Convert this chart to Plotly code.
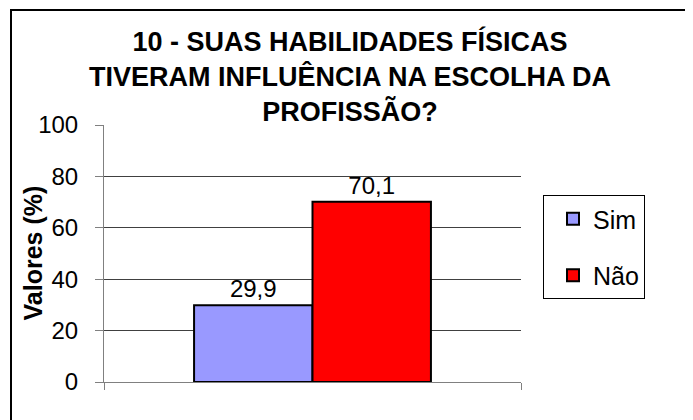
import plotly.graph_objects as go

categories = ["Sim", "Não"]
values = [29.9, 70.1]
colors = ["#9999FF", "#FF0000"]
y_ticks = [0, 20, 40, 60, 80, 100]
title_lines = ["10 - SUAS HABILIDADES FÍSICAS", "TIVERAM INFLUÊNCIA NA ESCOLHA DA", "PROFISSÃO?"]
y_title = "Valores (%)"

FONT = "Liberation Sans, Arial, sans-serif"

fig = go.Figure()
for name, val, col in zip(categories, values, colors):
    fig.add_trace(go.Bar(
        x=[""], y=[val], name=name, legendgroup=name,
        marker=dict(color=col, line=dict(color="black", width=2)),
        texttemplate="%{y:.1f}", textposition="outside",
        textfont=dict(size=24, color="black", family=FONT),
        cliponaxis=False,
    ))

# page has an 8px body margin; figure coordinates = screen - 8
W, H = 685, 412
L, R, T, B = 96, 172, 117, 38
pw, ph = W - L - R, H - T - B

fig.update_layout(
    width=W, height=H,
    margin=dict(l=L, r=R, t=T, b=B),
    paper_bgcolor="white", plot_bgcolor="white",
    separators=",.",
    font=dict(family=FONT, color="black", size=24),
    barmode="group", bargap=0.432, bargroupgap=0,
    title=dict(
        text="<b>" + "<br>".join(title_lines) + "</b>",
        font=dict(size=27, family=FONT, color="black"),
        x=(342 - L) / pw, xref="paper", xanchor="center",
        y=1 - 43 / H, yref="container", yanchor="top",
    ),
    showlegend=True,
    legend=dict(
        x=(535 - L) / pw, xanchor="left",
        y=(H - B - 187) / ph, yanchor="top",
        bordercolor="black", borderwidth=1,
        font=dict(size=25, family=FONT),
        tracegroupgap=21,
        traceorder="grouped",
        indentation=9,
        entrywidth=101,
    ),
    annotations=[dict(
        text="<b>" + y_title + "</b>", textangle=-90,
        xref="paper", yref="paper",
        x=(24 - L) / pw, y=0.5, xanchor="center", yanchor="middle",
        showarrow=False, font=dict(size=25, family=FONT, color="black"),
    )],
    shapes=[dict(
        type="rect", xref="paper", yref="paper",
        x0=(3 - L) / pw, x1=2.0,
        y0=-1.0, y1=(H - B - 2) / ph,
        line=dict(color="black", width=2), fillcolor="rgba(0,0,0,0)",
        layer="below",
    )],
)

fig.update_yaxes(
    range=[0, 100], tickvals=y_ticks,
    ticks="outside", ticklen=8, tickcolor="#808080",
    showline=True, linecolor="#808080", linewidth=1,
    showgrid=True, gridcolor="#404040", gridwidth=1,
    zeroline=False,
    tickfont=dict(size=24, family=FONT),
    ticklabelstandoff=12,
)
fig.update_xaxes(
    showline=True, linecolor="#808080", linewidth=1,
    ticks="outside", tickson="boundaries", ticklen=7, tickcolor="#808080",
    showticklabels=False, showgrid=False,
)

fig.write_html("out.html")
